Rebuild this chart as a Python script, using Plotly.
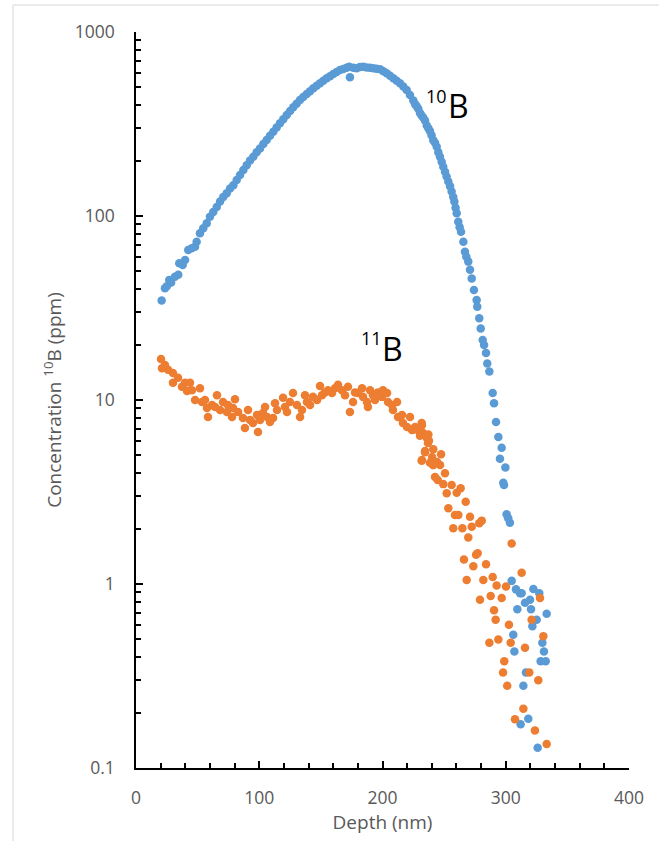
import plotly.graph_objects as go

# ---------------- data ----------------
b10_depth = [20.8, 23.5, 25.0, 27.0, 28.5, 31.6, 34.3, 35.1, 37.9, 39.8,
             42.4, 45.2, 47.9, 49.2, 51.9, 54.6, 57.4, 60.0, 62.7, 65.5,
             68.2, 70.8, 73.6, 76.3, 79.0, 81.7, 84.4, 87.1, 89.8, 92.5,
             95.2, 97.9, 100.6, 103.3, 106.0, 108.7, 111.4, 114.1, 116.8, 119.5,
             122.3, 125.0, 127.6, 130.3, 133.0, 135.7, 138.5, 141.2, 143.9, 146.6,
             149.3, 152.0, 154.7, 157.4, 160.1, 162.8, 165.5, 168.2, 170.9, 173.0,
             173.6, 176.3, 179.0, 181.7, 184.4, 187.1, 189.8, 192.5, 195.2, 198.0,
             200.7, 203.4, 206.1, 208.8, 211.5, 214.2, 216.9, 219.6, 222.3, 225.0,
             226.5, 227.7, 229.0, 230.4, 231.7, 233.0, 234.5, 235.9, 237.2, 238.5,
             239.8, 241.2, 242.6, 244.0, 245.3, 246.6, 248.0, 249.3, 250.7, 252.0,
             253.4, 254.8, 256.1, 257.4, 258.3, 259.3, 260.2, 261.5, 262.6, 263.7,
             265.6, 266.9, 268.0, 269.6, 271.0, 272.4, 274.2, 276.4, 276.9, 278.5,
             279.7, 281.3, 282.4, 284.0, 285.0, 286.7, 289.4, 290.5, 292.1, 294.0,
             296.7, 295.3, 299.7, 298.0, 298.6, 300.7, 302.0, 303.4, 304.8, 308.3,
             311.6, 312.9, 322.4, 327.2, 315.6, 319.7, 309.4, 320.5, 333.2, 325.1,
             321.6, 306.1, 329.7, 307.0, 331.0, 328.3, 332.4, 316.4, 314.3, 318.3,
             312.1, 325.9]
b10_conc = [34.7, 40.5, 41.5, 44.9, 43.5, 46.8, 47.9, 55.3, 54.1, 57.7,
            65.3, 66.7, 68.0, 72.5, 80.5, 85.7, 91.3, 99, 105, 112,
            120, 127, 133, 141, 147, 157, 167, 178, 189, 200,
            210, 222, 233, 246, 259, 273, 287, 303, 319, 336,
            354, 372, 390, 408, 427, 443, 460, 477, 494, 510,
            526, 543, 560, 575, 591, 606, 621, 630, 640, 648,
            567, 640, 635, 645, 648, 642, 640, 635, 632, 627,
            612, 596, 578, 560, 543, 526, 505, 484, 455, 425,
            405, 395, 383, 363, 352, 343, 330, 310, 300, 290,
            275, 258, 250, 238, 222, 210, 197, 185, 174, 164,
            154, 145, 136, 127, 120, 111, 103.5, 93, 87, 82,
            72.5, 64, 60, 56.5, 51, 45.8, 39.6, 34.9, 32.1, 27.8,
            24.5, 21.2, 19.9, 18.0, 15.8, 14.3, 10.9, 9.6, 7.6, 6.3,
            5.5, 4.8, 4.3, 3.55, 3.45, 2.39, 2.28, 2.15, 1.04, 0.935,
            0.89, 0.89, 0.94, 0.89, 0.79, 0.82, 0.73, 0.73, 0.69, 0.64,
            0.59, 0.53, 0.48, 0.43, 0.43, 0.38, 0.38, 0.33, 0.28, 0.185,
            0.173, 0.129]

b11_depth = [20.3, 21.1, 23.5, 26.0, 30.0, 30.0, 34.1, 37.3, 39.8, 43.8, 41.4, 45.4, 47.9, 51.9,
             53.5, 56.0, 57.6, 58.4, 61.7, 65.7, 64.1, 68.2, 70.6, 73.8, 74.6, 80.3, 78.7, 77.9,
             82.8, 86.8, 88.4, 90.9, 92.5, 94.9, 98.2, 99.0, 100.6, 103.0, 104.7, 106.3, 108.7,
             111.2, 112.8, 114.4, 119.3, 120.9, 122.5, 124.9, 127.4, 130.6, 133.1, 134.7, 137.1,
             138.7, 141.2, 143.6, 146.9, 149.3, 150.9, 153.3, 155.8, 159.0, 161.5, 163.9, 167.1,
             169.6, 172.0, 173.6, 176.1, 177.7, 180.1, 183.4, 184.2, 187.4, 188.2, 189.9, 192.3,
             193.9, 196.3, 199.6, 200.4, 203.7, 204.5, 207.7, 208.5, 211.8, 212.6, 215.8, 216.6,
             219.9, 222.3, 223.9, 226.4, 228.8, 232.0, 232.9, 236.1, 236.9, 234.5, 232.0, 240.2,
             241.0, 244.2, 242.6, 225.0, 230.4, 231.8, 237.2, 237.7, 234.5, 241.2, 247.5, 238.5,
             231.8, 246.7, 241.2, 250.7, 244.8, 249.3, 256.1, 252.1, 260.2, 263.4, 267.5, 253.4,
             258.8, 261.5, 271.0, 257.4, 264.8, 278.5, 280.5, 272.4, 269.6, 277.2, 275.9, 266.1,
             284.0, 273.7, 268.3, 281.8, 289.4, 300.2, 292.6, 301.2, 297.8, 298.8, 304.0, 294.0,
             286.7, 302.6, 291.8, 290.5, 296.7, 287.8, 279.1, 304.8, 312.9, 327.8, 321.0, 330.5,
             315.6, 319.1, 326.4, 314.3, 307.5, 323.7, 333.2]
b11_conc = [16.7, 14.9, 15.5, 14.6, 14.0, 12.4, 13.2, 11.8, 12.4, 12.4, 11.2, 11.3, 10.0, 11.6,
            9.75, 10.0, 9.05, 8.09, 9.4, 10.6, 9.16, 8.83, 9.75, 8.6, 9.4, 10.1, 9.05, 8.09,
            8.6, 7.98, 7.05, 8.83, 7.78, 7.5, 8.3, 6.7, 7.78, 8.5, 9.16, 8.09, 7.6,
            7.98, 9.6, 8.83, 10.3, 9.16, 8.6, 9.75, 10.9, 9.4, 8.09, 8.83, 10.6,
            9.75, 9.4, 10.4, 10.0, 11.9, 10.6, 11.0, 11.3, 10.9, 11.6, 12.1, 11.3,
            10.6, 11.8, 8.6, 9.75, 11.0, 10.9, 11.6, 10.4, 9.75, 9.16, 11.3, 10.6,
            10.0, 11.0, 10.4, 11.3, 10.9, 9.75, 9.4, 8.83, 9.75, 8.09, 8.3, 7.5,
            7.13, 8.09, 6.87, 7.13, 6.87, 7.3, 6.62, 6.2, 5.84, 5.2, 4.72, 4.9,
            4.43, 4.6, 3.82, 6.9, 6.4, 7.5, 6.5, 6.0, 5.28, 5.4, 5.07, 4.56,
            4.68, 4.43, 4.43, 4.0, 3.67, 3.49, 3.45, 3.11, 3.13, 3.31, 2.80, 2.58,
            2.37, 2.37, 2.32, 2.01, 2.01, 2.14, 2.21, 2.05, 1.79, 1.47, 1.44, 1.36,
            1.28, 1.25, 1.05, 1.05, 1.09, 0.97, 0.98, 0.28, 0.33, 0.38, 0.48, 0.50,
            0.48, 0.60, 0.64, 0.72, 0.84, 0.86, 0.82, 1.66, 1.15, 0.84, 0.64, 0.52,
            0.45, 0.33, 0.30, 0.21, 0.184, 0.16, 0.135]

x_tickvals = [0, 100, 200, 300, 400]
x_ticktext = ["0", "100", "200", "300", "400"]
y_tickvals = [0.1, 1, 10, 100, 1000]
y_ticktext = ["0.1", "1", "10", "100", "1000"]

BLUE = "#5B9BD5"
ORANGE = "#ED7D31"
GREY = "#595959"
TICKFONT = dict(family="Open Sans", size=17.5, color=GREY)

fig = go.Figure()
fig.add_trace(go.Scatter(x=b10_depth, y=b10_conc, mode="markers", name="10B",
                         marker=dict(color=BLUE, size=8.5, line=dict(width=0))))
fig.add_trace(go.Scatter(x=b11_depth, y=b11_conc, mode="markers", name="11B",
                         marker=dict(color=ORANGE, size=8.5, line=dict(width=0))))

y_minor = [k * 10 ** e for e in range(-1, 3) for k in range(2, 10)]

fig.update_xaxes(range=[0, 400], tickmode="array", tickvals=x_tickvals, ticktext=x_ticktext,
                 ticks="inside", ticklen=7, tickwidth=1.5, tickcolor="black",
                 showline=True, linecolor="black", linewidth=1.5,
                 showgrid=False, zeroline=False, tickfont=TICKFONT, ticklabelstandoff=13,
                 minor=dict(dtick=20, tick0=0, ticks="inside", ticklen=5, tickwidth=1.5,
                            tickcolor="black", showgrid=False),
                 title=dict(text="Depth (nm)", font=dict(family="Open Sans", size=19, color=GREY),
                            standoff=6))
fig.update_yaxes(type="log", range=[-1, 3], tickmode="array", tickvals=y_tickvals, ticktext=y_ticktext,
                 ticks="inside", ticklen=7, tickwidth=1.5, tickcolor="black",
                 showline=True, linecolor="black", linewidth=1.5,
                 showgrid=False, zeroline=False, tickfont=TICKFONT, ticklabelstandoff=16,
                 minor=dict(tickvals=y_minor, ticks="inside", ticklen=5, tickwidth=1.5,
                            tickcolor="black", showgrid=False),
                 title=dict(text="Concentration <sup>10</sup>B (ppm)",
                            font=dict(family="Open Sans", size=19, color=GREY), standoff=8))

ann_font_big = dict(family="Open Sans", size=32, color="black")
ann_font_small = dict(family="Open Sans", size=18, color="black")
fig.add_annotation(x=262, y=2.60, xref="x", yref="y", text="B", showarrow=False,
                   font=ann_font_big, xanchor="center", yanchor="middle")
fig.add_annotation(x=244.2, y=2.65, xref="x", yref="y", text="10", showarrow=False,
                   font=ann_font_small, xanchor="center", yanchor="middle")
fig.add_annotation(x=208.5, y=1.28, xref="x", yref="y", text="B", showarrow=False,
                   font=ann_font_big, xanchor="center", yanchor="middle")
fig.add_annotation(x=190.7, y=1.335, xref="x", yref="y", text="11", showarrow=False,
                   font=ann_font_small, xanchor="center", yanchor="middle")

# light chart-area border
fig.add_shape(type="rect", xref="paper", yref="paper", x0=-0.2495, x1=1.2, y0=-0.2, y1=1.0367,
              line=dict(color="#D9D9D9", width=1), layer="below")

fig.update_layout(width=659, height=841, autosize=False,
                  margin=dict(l=136, r=30, t=32, b=73),
                  paper_bgcolor="white", plot_bgcolor="white", showlegend=False)

fig.write_html("out.html")
